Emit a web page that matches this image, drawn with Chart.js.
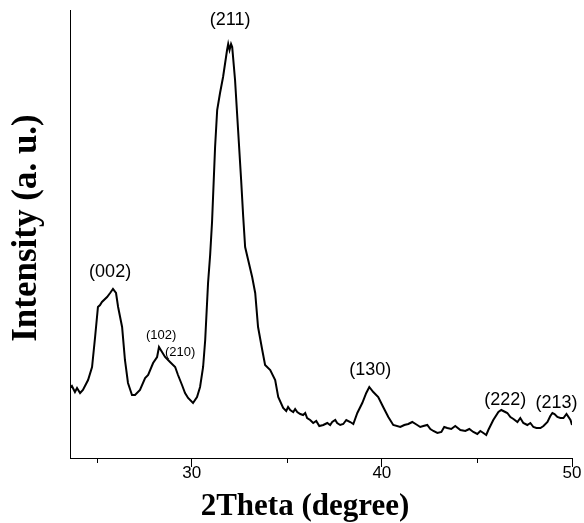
<!DOCTYPE html>
<html>
<head>
<meta charset="utf-8">
<script src="https://cdn.jsdelivr.net/npm/chart.js@4/dist/chart.umd.min.js"></script>
<style>
  html, body { margin: 0; padding: 0; background: #fff; }
  #wrap { width: 584px; height: 523px; position: relative; }
</style>
</head>
<body>
<div id="wrap"><canvas id="xrd"></canvas></div>
<script>
// 2theta (degree)
var twoTheta = [23.60, 23.70, 23.86, 23.97, 24.13, 24.28, 24.55, 24.76, 24.92, 25.07,
  25.18, 25.28, 25.55, 25.71, 25.86, 26.02, 26.13, 26.34, 26.49, 26.65,
  26.86, 27.02, 27.28, 27.55, 27.71, 27.97, 28.18, 28.28, 28.44, 28.60,
  28.86, 29.13, 29.28, 29.49, 29.65, 29.81, 30.07, 30.28, 30.44, 30.60,
  30.71, 30.86, 30.97, 31.07, 31.23, 31.34, 31.49, 31.65, 31.86, 31.92,
  31.99, 32.07, 32.13, 32.28, 32.44, 32.60, 32.71, 32.81, 32.97, 33.18,
  33.34, 33.49, 33.71, 33.86, 34.13, 34.39, 34.55, 34.81, 34.97, 35.07,
  35.18, 35.34, 35.44, 35.55, 35.71, 35.86, 35.97, 36.07, 36.23, 36.39,
  36.55, 36.71, 36.92, 37.13, 37.28, 37.39, 37.55, 37.65, 37.81, 37.97,
  38.13, 38.34, 38.50, 38.71, 38.97, 39.18, 39.34, 39.55, 39.81, 40.07,
  40.34, 40.60, 40.97, 41.18, 41.39, 41.60, 41.86, 42.02, 42.18, 42.39,
  42.55, 42.71, 42.92, 43.13, 43.28, 43.44, 43.65, 43.86, 44.13, 44.39,
  44.60, 44.81, 45.02, 45.18, 45.34, 45.49, 45.60, 45.86, 46.13, 46.28,
  46.49, 46.60, 46.76, 46.92, 47.13, 47.28, 47.44, 47.65, 47.81, 47.97,
  48.13, 48.34, 48.50, 48.71, 48.86, 48.97, 49.08, 49.23, 49.39, 49.55,
  49.71, 49.92, 50.00];

// intensity (a. u.)
var intensity = [70, 72, 66, 70, 65, 68, 78, 91, 121, 151,
  153, 156, 161, 165, 169, 165, 151, 131, 98, 75,
  63, 63, 68, 80, 83, 95, 101, 111, 106, 101,
  96, 91, 83, 73, 65, 60, 55, 61, 71, 91,
  118, 175, 203, 236, 311, 348, 365, 381, 408, 414,
  408, 414, 411, 378, 328, 278, 241, 211, 198, 181,
  165, 131, 108, 93, 88, 78, 61, 50, 47, 51,
  48, 46, 49, 46, 44, 43, 45, 40, 38, 35,
  37, 32, 33, 35, 33, 36, 38, 35, 33, 34,
  38, 36, 34, 45, 55, 65, 71, 66, 61, 51,
  41, 33, 31, 33, 34, 36, 33, 31, 32, 33,
  29, 27, 25, 26, 31, 30, 29, 32, 28, 27,
  29, 26, 24, 27, 25, 23, 28, 38, 46, 48,
  46, 45, 41, 39, 36, 40, 35, 33, 35, 31,
  30, 30, 32, 36, 42, 45, 44, 41, 40, 40,
  44, 38, 33];

// peak indices and where their labels sit
var peakLabels = ['(002)', '(102)', '(210)', '(211)', '(130)', '(222)', '(213)'];
var peakLabelTheta = [25.71, 28.39, 29.39, 32.02, 39.39, 46.49, 49.18];
var peakLabelI = [186, 123, 106, 438, 88, 58, 55];

var xTicks = [25, 30, 35, 40, 45, 50];
var xTitle = '2Theta (degree)';
var yTitle = 'Intensity (a. u.)';

var points = twoTheta.map(function(t, i) { return {x: t, y: intensity[i]}; });

// peak labels, axis titles, short minor ticks
var peakPlugin = {
  id: 'peaks',
  afterDatasetsDraw: function(chart) {
    var ctx = chart.ctx, xs = chart.scales.x, ys = chart.scales.y;
    var area = chart.chartArea;
    ctx.save();
    ctx.fillStyle = '#000';
    ctx.textAlign = 'center';
    ctx.textBaseline = 'middle';
    for (var i = 0; i < peakLabels.length; i++) {
      var small = (peakLabels[i] == '(102)' || peakLabels[i] == '(210)');
      ctx.font = (small ? 13 : 18) + 'px "Liberation Sans", Arial, sans-serif';
      ctx.fillText(peakLabels[i], xs.getPixelForValue(peakLabelTheta[i]), ys.getPixelForValue(peakLabelI[i]));
    }

    // axis titles
    ctx.font = 'bold 31px "Liberation Serif", "Times New Roman", serif';
    ctx.fillText(xTitle, (area.left + area.right) / 2 - 16, xs.bottom - 16);
    ctx.save();
    ctx.translate(27, (area.top + area.bottom) / 2 - 6);
    ctx.rotate(-Math.PI / 2);
    ctx.font = 'bold 35px "Liberation Serif", "Times New Roman", serif';
    ctx.fillText(yTitle, 0, 0);
    ctx.restore();

    // minor ticks
    ctx.strokeStyle = '#000';
    ctx.lineWidth = 1;
    xTicks.forEach(function(v) {
      if (v % 10 == 0) return;
      var px = Math.round(xs.getPixelForValue(v)) + 0.5;
      ctx.beginPath();
      ctx.moveTo(px, xs.top);
      ctx.lineTo(px, xs.top + 5);
      ctx.stroke();
    });
    ctx.restore();
  }
};

var chart = new Chart(document.getElementById('xrd'), {
  type: 'line',
  data: {
    datasets: [{
      data: points,
      borderColor: '#000',
      borderWidth: 2,
      pointRadius: 0,
      tension: 0,
      fill: false
    }]
  },
  options: {
    responsive: true,
    maintainAspectRatio: false,
    animation: false,
    layout: { padding: { top: 10, right: 12, left: 0, bottom: 0 } },
    plugins: { legend: { display: false }, tooltip: { enabled: false } },
    scales: {
      x: {
        type: 'linear',
        min: 23.6,
        max: 50,
        afterBuildTicks: function(scale) {
          scale.ticks = xTicks.map(function(v) { return {value: v}; });
        },
        afterFit: function(scale) { scale.height = 65; },
        border: { display: true, color: '#000', width: 1 },
        grid: {
          drawOnChartArea: false,
          drawTicks: true,
          tickLength: 9,
          tickColor: function(c) { return (c.tick && c.tick.value % 10 == 0) ? '#000' : 'rgba(0,0,0,0)'; }
        },
        ticks: {
          color: '#000',
          padding: -4,
          maxRotation: 0,
          autoSkip: false,
          font: { family: '"Liberation Sans", Arial, sans-serif', size: 17 },
          callback: function(v) { return v % 10 == 0 ? v : ''; }
        },
        title: { display: false }
      },
      y: {
        min: 0,
        max: 448,
        afterFit: function(scale) { scale.width = 70; },
        border: { display: true, color: '#000', width: 1 },
        grid: { display: false, drawTicks: false },
        ticks: { display: false },
        title: { display: false }
      }
    }
  },
  plugins: [peakPlugin]
});
</script>
</body>
</html>
